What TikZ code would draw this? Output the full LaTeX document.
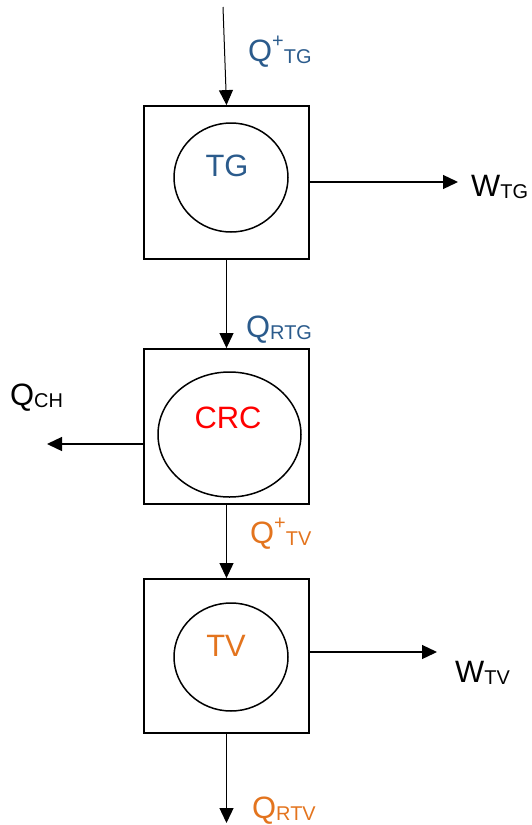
\documentclass[tikz,border=0pt]{standalone}
\usepackage{fontspec}
\setmainfont{Liberation Sans}
\usetikzlibrary{arrows.meta,shapes.geometric}
\definecolor{tgblue}{HTML}{2B5B8C}
\definecolor{tvorange}{HTML}{E3741E}
\definecolor{crcred}{HTML}{FF0000}
\newcommand\bigtxt{\fontsize{31}{31}\selectfont}
\newcommand\smalltxt{\fontsize{20}{20}\selectfont}
% Q with a lowered index, optionally preceded by a raised "+"
\newcommand\symsub[2]{{\bigtxt #1}{\smalltxt\raisebox{-2.5bp}{#2}}}
\newcommand\symsupsub[2]{{\bigtxt #1}{\smalltxt\raisebox{14bp}{+}\raisebox{-2.5bp}{#2}}}
\begin{document}
\begin{tikzpicture}[x=1bp,y=-1bp,
  unitbox/.style={draw,line width=1.8bp,rectangle,minimum width=165bp,inner sep=0pt},
  core/.style={draw,line width=1.5bp,ellipse,inner sep=0pt},
  flow/.style={line width=1.3bp,-{Triangle[length=15bp,width=14bp]}},
  lab/.style={anchor=base west,inner sep=0pt},
  coretxt/.style={anchor=base,inner sep=0pt,font=\bigtxt}]
\useasboundingbox (0,0) rectangle (532,825);

% turbine gas unit
\node[unitbox,minimum height=153bp] (b1) at (226.5,182.5) {};
\node[core,minimum width=114bp,minimum height=109bp] (e1) at (231,177.5) {};
\node[coretxt,text=tgblue] (t1) at (227,176) {TG};

% recovery unit
\node[unitbox,minimum height=155bp] (b2) at (226.5,426.5) {};
\node[core,minimum width=143bp,minimum height=125bp] (e2) at (229.5,434.5) {};
\node[coretxt,text=crcred] (t2) at (228,428) {CRC};

% steam turbine unit
\node[unitbox,minimum height=154bp] (b3) at (226.5,656) {};
\node[core,minimum width=114bp,minimum height=108bp] (e3) at (231,657) {};
\node[coretxt,text=tvorange] (t3) at (226,656) {TV};

% free ends of the flows
\coordinate (qin) at (223,7);
\coordinate (wtgEnd) at (458,182);
\coordinate (qchEnd) at (47,444);
\coordinate (wtvEnd) at (437,652);
\coordinate (qrtvEnd) at (226.5,823);

% flows
\draw[flow,line width=1bp] (qin) -- (b1.north);
\draw[flow] (b1.east |- wtgEnd) -- (wtgEnd);
\draw[flow,line width=1bp] (b1.south) -- (b2.north);
\draw[flow] (b2.west |- qchEnd) -- (qchEnd);
\draw[flow,line width=1bp] (b2.south) -- (b3.north);
\draw[flow] (b3.east |- wtvEnd) -- (wtvEnd);
\draw[flow] (b3.south) -- (qrtvEnd);

% flow labels
\node[lab,text=tgblue] (lqtg) at (248,61) {\symsupsub{Q}{TG}};
\node[lab,text=tgblue] (lqrtg) at (246,337) {\symsub{Q}{RTG}};
\node[lab,text=tvorange] (lqtv) at (250,543) {\symsupsub{Q}{TV}};
\node[lab,text=tvorange] (lqrtv) at (252,818) {\symsub{Q}{RTV}};
\node[lab] (lqch) at (10,405) {\symsub{Q}{CH}};
\node[lab] (lwtg) at (471,196) {\symsub{W}{TG}};
\node[lab] (lwtv) at (455,682) {\symsub{W}{TV}};
\end{tikzpicture}
\end{document}
